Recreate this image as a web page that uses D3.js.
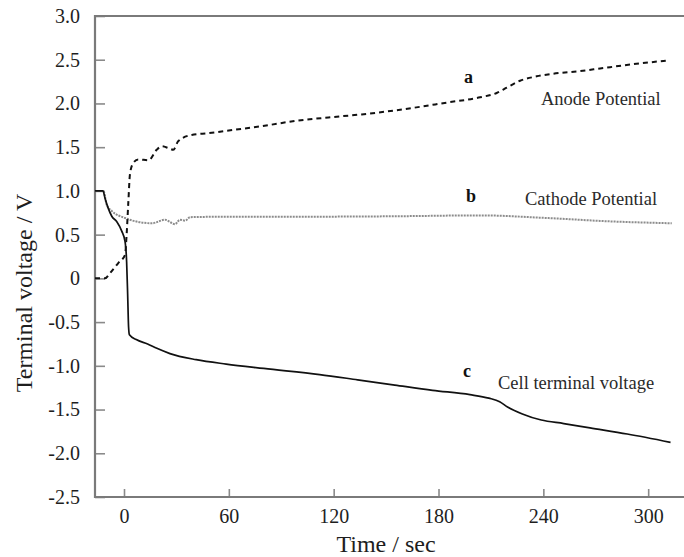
<!DOCTYPE html>
<html>
<head>
<meta charset="utf-8">
<script src="https://cdn.jsdelivr.net/npm/d3@7"></script>
<style>
  html, body { margin: 0; padding: 0; background: #fff; }
  svg { display: block; font-family: "Liberation Serif", "Times New Roman", serif; }
</style>
</head>
<body>
<svg id="chart" width="684" height="557"></svg>
<script>
// Time axis (sec) and potentials (V)
const anodeTime = [-16.6, -10.9, -8, -3.3, 0.6, 1.5, 2.5, 3.4, 5.3, 8.2, 14, 18.7, 21.6, 25.4, 28.2, 31.1, 38.7, 48.3, 63.5, 78.8, 97.9, 117, 136, 155, 165.6, 184.7, 203.8, 213.3, 219, 226.7, 236.2, 245.7, 261, 272.5, 287.7, 310.6];
const anodeValue = [0, 0, 0.06, 0.175, 0.27, 0.5, 0.88, 1.19, 1.32, 1.36, 1.35, 1.47, 1.51, 1.49, 1.47, 1.57, 1.64, 1.66, 1.7, 1.74, 1.8, 1.84, 1.875, 1.92, 1.95, 2.01, 2.07, 2.12, 2.18, 2.26, 2.31, 2.34, 2.37, 2.4, 2.44, 2.49];

const cathodeTime = [-16.6, -11.8, -9.9, -7, 0.6, 8.2, 15.9, 23.5, 29.2, 32, 35, 37.8, 60, 100, 155, 204, 242, 280, 313.5];
const cathodeValue = [1.0, 1.0, 0.84, 0.77, 0.69, 0.645, 0.63, 0.67, 0.62, 0.67, 0.66, 0.7, 0.705, 0.705, 0.71, 0.72, 0.69, 0.65, 0.63];

const cellTime = [-16.6, -12, -10.9, -9, -7, -4.2, -1.3, 0.6, 1.5, 2.1, 2.6, 3.1, 7, 13.5, 18.8, 26.3, 41.3, 58.5, 80, 112, 133.7, 155, 176.6, 198, 208.8, 215, 219.5, 228, 238.8, 251.7, 266.7, 288, 312.8];
const cellValue = [1.0, 1.0, 0.92, 0.8, 0.71, 0.65, 0.54, 0.42, 0.19, -0.19, -0.55, -0.645, -0.7, -0.75, -0.8, -0.86, -0.93, -0.98, -1.03, -1.1, -1.16, -1.22, -1.28, -1.33, -1.37, -1.41, -1.47, -1.55, -1.62, -1.66, -1.71, -1.78, -1.875];

const xTicks = [0, 60, 120, 180, 240, 300];
const yTicks = [3.0, 2.5, 2.0, 1.5, 1.0, 0.5, 0, -0.5, -1.0, -1.5, -2.0, -2.5];
const yTickLabels = ["3.0", "2.5", "2.0", "1.5", "1.0", "0.5", "0", "-0.5", "-1.0", "-1.5", "-2.0", "-2.5"];

const curveLabels = [
  { key: "a", text: "Anode Potential" },
  { key: "b", text: "Cathode Potential" },
  { key: "c", text: "Cell terminal voltage" }
];

const svg = d3.select("#chart");
const plotLeft = 95, plotRight = 684, plotTop = 16, plotBottom = 497;

const x = d3.scaleLinear().domain([-16.6, 320.5]).range([plotLeft, plotRight]);
const y = d3.scaleLinear().domain([-2.5, 3.0]).range([plotBottom, plotTop]);

const frameColor = "#7a7a7a";
const textColor = "#1e1e1e";

// Y axis: ticks point into the plot
const yAxis = d3.axisLeft(y)
  .tickValues(yTicks)
  .tickFormat((d, i) => yTickLabels[i])
  .tickSizeInner(-10)
  .tickSizeOuter(0)
  .tickPadding(15);

const gy = svg.append("g").attr("transform", `translate(${plotLeft},0)`).call(yAxis);
gy.select(".domain").remove();
gy.selectAll(".tick line").attr("stroke", "#8a8a8a").attr("stroke-width", 1.6);
gy.selectAll(".tick text").attr("font-size", 20).attr("fill", textColor)
  .attr("font-family", "Liberation Serif, Times New Roman, serif");

// X axis
const xAxis = d3.axisBottom(x)
  .tickValues(xTicks)
  .tickFormat(d3.format("d"))
  .tickSizeInner(-8)
  .tickSizeOuter(0)
  .tickPadding(12);

const gx = svg.append("g").attr("transform", `translate(0,${plotBottom})`).call(xAxis);
gx.select(".domain").remove();
gx.selectAll(".tick line").attr("stroke", "#8a8a8a").attr("stroke-width", 1.6);
gx.selectAll(".tick text").attr("font-size", 20).attr("fill", textColor)
  .attr("font-family", "Liberation Serif, Times New Roman, serif");

// Frame: left, top and bottom edges
svg.append("path")
  .attr("d", `M${plotRight},${plotTop}H${plotLeft}V${plotBottom}H${plotRight}`)
  .attr("fill", "none")
  .attr("stroke", frameColor)
  .attr("stroke-width", 2.2);

// Curves
const line = d3.line()
  .x(d => x(d[0]))
  .y(d => y(d[1]))
  .curve(d3.curveMonotoneX);

const series = [
  { t: cathodeTime, v: cathodeValue, stroke: "#8c8c8c", width: 2, dash: "2,1" },
  { t: anodeTime, v: anodeValue, stroke: "#111", width: 2, dash: "5,4" },
  { t: cellTime, v: cellValue, stroke: "#111", width: 1.7, dash: null }
];

series.forEach(s => {
  svg.append("path")
    .datum(d3.zip(s.t, s.v))
    .attr("d", line)
    .attr("fill", "none")
    .attr("stroke", s.stroke)
    .attr("stroke-width", s.width)
    .attr("stroke-dasharray", s.dash)
    .attr("stroke-linejoin", "round");
});

// Curve labels
const labelPos = {
  a: { kx: 464, ky: 83, tx: 541, ty: 105 },
  b: { kx: 466, ky: 202, tx: 525, ty: 205 },
  c: { kx: 463, ky: 377, tx: 498, ty: 389 }
};

curveLabels.forEach(l => {
  const p = labelPos[l.key];
  svg.append("text")
    .attr("x", p.kx).attr("y", p.ky)
    .attr("font-size", 18).attr("font-weight", "bold").attr("fill", "#111")
    .text(l.key);
  svg.append("text")
    .attr("x", p.tx).attr("y", p.ty)
    .attr("font-size", 18.5).attr("fill", "#2a2a2a")
    .text(l.text);
});

// Axis titles
svg.append("text")
  .attr("x", 386).attr("y", 552)
  .attr("text-anchor", "middle")
  .attr("font-size", 24).attr("fill", textColor)
  .text("Time / sec");

svg.append("text")
  .attr("transform", `translate(32,293) rotate(-90)`)
  .attr("text-anchor", "middle")
  .attr("font-size", 24).attr("fill", textColor)
  .text("Terminal voltage / V");
</script>
</body>
</html>
